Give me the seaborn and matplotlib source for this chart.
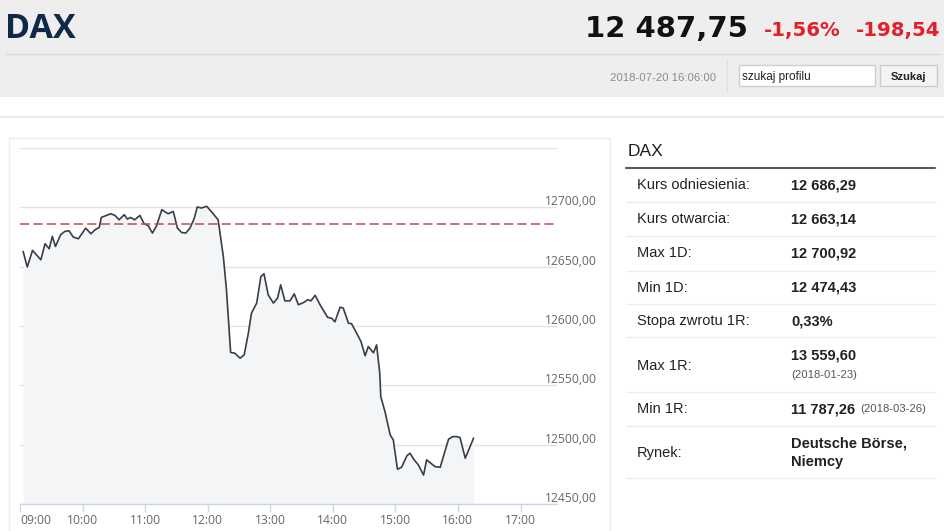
import matplotlib
matplotlib.use("Agg")
import pandas as pd
import seaborn as sns
import matplotlib.pyplot as plt
from matplotlib.patches import Rectangle
from matplotlib.lines import Line2D
from matplotlib.transforms import blended_transform_factory, offset_copy

# intraday DAX quotes (2018-07-20)
times = [
    "09:03", "09:07", "09:12", "09:20", "09:24", "09:28", "09:31", "09:34", "09:39", "09:43",
    "09:47", "09:51", "09:56", "10:03", "10:08", "10:12", "10:16", "10:18", "10:27", "10:31",
    "10:35", "10:40", "10:43", "10:46", "10:50", "10:55", "10:59", "11:03", "11:07", "11:11",
    "11:16", "11:22", "11:27", "11:31", "11:35", "11:39", "11:43", "11:47", "11:50", "11:54",
    "11:59", "12:04", "12:10", "12:15", "12:18", "12:22", "12:26", "12:31", "12:35", "12:39",
    "12:42", "12:47", "12:51", "12:54", "12:58", "13:03", "13:07", "13:10", "13:14", "13:19",
    "13:23", "13:27", "13:32", "13:36", "13:39", "13:43", "13:48", "13:55", "13:59", "14:02",
    "14:07", "14:10", "14:15", "14:18", "14:23", "14:27", "14:31", "14:34", "14:39", "14:42",
    "14:45", "14:46", "14:50", "14:55", "14:58", "15:02", "15:06", "15:11", "15:14", "15:18",
    "15:22", "15:27", "15:30", "15:38", "15:43", "15:51", "15:55", "15:59", "16:02", "16:07",
    "16:15",
]
prices = [
    12662.8, 12649.7, 12663.7, 12655.8, 12669.3, 12665.1, 12675.5, 12667.0, 12676.9, 12679.7,
    12680.3, 12675.0, 12673.5, 12682.5, 12677.7, 12681.1, 12683.1, 12691.5, 12694.6, 12693.2,
    12689.5, 12693.8, 12690.1, 12691.5, 12689.5, 12693.2, 12686.2, 12684.5, 12678.3, 12684.5,
    12698.0, 12694.6, 12696.5, 12682.5, 12678.8, 12678.3, 12682.5, 12690.4, 12700.3, 12699.4,
    12700.9, 12695.9, 12689.5, 12658.6, 12630.5, 12577.7, 12577.1, 12572.9, 12575.7, 12594.0,
    12610.9, 12619.3, 12641.7, 12644.0, 12626.3, 12619.3, 12623.5, 12634.7, 12621.2, 12621.2,
    12627.1, 12617.9, 12619.8, 12622.1, 12621.2, 12625.9, 12617.5, 12607.3, 12606.5, 12603.5,
    12615.9, 12615.1, 12602.4, 12601.9, 12593.7, 12586.9, 12574.9, 12582.7, 12577.4, 12584.1,
    12560.3, 12540.6, 12527.9, 12508.3, 12504.0, 12479.3, 12481.0, 12490.6, 12492.8, 12487.2,
    12483.0, 12474.4, 12487.2, 12481.5, 12481.0, 12504.6, 12506.8, 12506.8, 12506.0, 12488.6,
    12505.5,
]
ref_level = 12686.29
y_ticks = [12450, 12500, 12550, 12600, 12650, 12700, 12750]
y_labels = ["12450,00", "12500,00", "12550,00", "12600,00", "12650,00", "12700,00"]
hour_labels = ["09:00", "10:00", "11:00", "12:00", "13:00", "14:00", "15:00", "16:00", "17:00"]

# header
name = "DAX"
last_price = "12 487,75"
change_pct = "-1,56%"
change_abs = "-198,54"
stamp = "2018-07-20 16:06:00"

# side table
row_labels = ["Kurs odniesienia:", "Kurs otwarcia:", "Max 1D:", "Min 1D:",
              "Stopa zwrotu 1R:", "Max 1R:", "Min 1R:", "Rynek:"]
row_values = ["12 686,29", "12 663,14", "12 700,92", "12 474,43", "0,33%",
              "13 559,60", "11 787,26", "Deutsche Börse,"]
row_notes = {5: "(2018-01-23)", 6: "(2018-03-26)", 7: "Niemcy"}

sns.set_theme(style="white")
plt.rcParams["font.family"] = ["Open Sans", "DejaVu Sans"]

W, H = 945, 531
fig = plt.figure(figsize=(W / 100, H / 100), dpi=100)
fig.patch.set_facecolor("white")


def fx(x):
    return x / W


def fy(y):
    return 1 - y / H


def hline(x0, x1, y, color, lw=1.0):
    fig.add_artist(Line2D([fx(x0), fx(x1)], [fy(y), fy(y)], color=color, lw=lw))


# header band
fig.add_artist(Rectangle((0, fy(97)), 1, 97 / H, color="#eeeeee", lw=0, zorder=0))
hline(5, 940, 54, "#d9d9d9")
hline(0, 945, 117, "#e6e6e6", 1.2)
fig.add_artist(Line2D([fx(727), fx(727)], [fy(60), fy(92)], color="#e0e0e0", lw=1))

fig.text(fx(5), fy(38), name, fontsize=24.5, fontweight="bold", color="#10284a",
         ha="left", va="baseline")
fig.text(fx(748), fy(37), last_price, fontsize=21, fontweight="bold", color="#111111",
         ha="right", va="baseline", family="DejaVu Sans")
fig.text(fx(764), fy(36), change_pct, fontsize=14.2, fontweight="bold", color="#e2202c",
         ha="left", va="baseline", family="DejaVu Sans")
fig.text(fx(940), fy(36), change_abs, fontsize=14.2, fontweight="bold", color="#e2202c",
         ha="right", va="baseline", family="DejaVu Sans")
fig.text(fx(716), fy(81), stamp, fontsize=8.2, color="#8c8c8c", ha="right", va="baseline",
         family="Liberation Sans")

# search box and button
fig.add_artist(Rectangle((fx(739), fy(86)), fx(136), 21 / H, facecolor="white",
                         edgecolor="#cfcfcf", lw=1))
fig.text(fx(742), fy(80), "szukaj profilu", fontsize=8.5, color="#222222",
         ha="left", va="baseline", family="Liberation Sans")
fig.add_artist(Rectangle((fx(880), fy(86)), fx(57), 21 / H, facecolor="#f3f3f3",
                         edgecolor="#cccccc", lw=1))
fig.text(fx(908.5), fy(80), "Szukaj", fontsize=8, fontweight="bold", color="#222222",
         ha="center", va="baseline", family="Liberation Sans")

# chart panel frame
fig.add_artist(Rectangle((fx(9), fy(545)), fx(601), (545 - 138) / H, fill=False,
                         edgecolor="#eeeeee", lw=1))

# chart
df = pd.DataFrame({"time": pd.to_datetime("2018-07-20 " + pd.Series(times)),
                   "price": prices})
ax = fig.add_axes([fx(20), fy(504), fx(537), (504 - 148) / H])
ax.set_facecolor("white")
ax.fill_between(df["time"], df["price"], y_ticks[0], color="#f4f5f7", lw=0, zorder=1)
sns.lineplot(data=df, x="time", y="price", ax=ax, color="#383e48", lw=1.2, zorder=3)
ax.axhline(ref_level, color="#c9474b", lw=1.1, dashes=(6, 2.8), zorder=4)

ax.set_ylim(y_ticks[0], y_ticks[-1])
ax.set_xlim(pd.Timestamp("2018-07-20 09:00"), pd.Timestamp("2018-07-20 17:35"))
ax.set_yticks(y_ticks)
ax.yaxis.grid(True, color="#e3e3e3", lw=1)
ax.set_axisbelow(True)
ax.tick_params(axis="y", left=False, right=False, labelleft=False)

tick_pos = pd.date_range("2018-07-20 09:00", "2018-07-20 17:00", freq="h")
ax.set_xticks(tick_pos)
ax.set_xticklabels(hour_labels)
ax.tick_params(axis="x", bottom=True, length=6, width=1, color="#ccd6eb", direction="out",
               labelsize=8.7, labelcolor="#666666", pad=1.5)
ax.get_xticklabels()[0].set_horizontalalignment("left")
for side in ["top", "left", "right"]:
    ax.spines[side].set_visible(False)
ax.spines["bottom"].set_color("#ccd6eb")
ax.spines["bottom"].set_linewidth(1)
ax.set_xlabel("")
ax.set_ylabel("")

trans = offset_copy(blended_transform_factory(ax.transAxes, ax.transData), fig=fig,
                    x=0, y=2, units="dots")
for val, lab in zip(y_ticks, y_labels):
    ax.text(0.978, val, lab, transform=trans, fontsize=8.7, color="#666666",
            ha="left", va="baseline", clip_on=False)

# side table
fig.text(fx(628), fy(156), name, fontsize=12.5, color="#1e1e1e", ha="left",
         va="baseline", family="Liberation Sans")
hline(626, 935, 167.7, "#5a5a5a", 1.5)
for y in [201.7, 236, 270.7, 304.3, 337.3, 391.7, 426, 477.7]:
    hline(626, 935, y, "#eeeeee", 1)

label_y = [185, 219.3, 253.3, 287.7, 321.5, 366, 409.3, 453.3]
value_y = [185, 219.3, 253.3, 287.7, 321.5, 355, 409.3, 444]
for i, (lab, val) in enumerate(zip(row_labels, row_values)):
    fig.text(fx(637), fy(label_y[i]), lab, fontsize=10.5, color="#222222",
             ha="left", va="center", family="Liberation Sans")
    fig.text(fx(791), fy(value_y[i]), val, fontsize=10.5, fontweight="bold",
             color="#222222", ha="left", va="center", family="Liberation Sans")
fig.text(fx(791), fy(375), row_notes[5], fontsize=8.1, color="#555555",
         ha="left", va="center", family="Liberation Sans")
fig.text(fx(860), fy(409.3), row_notes[6], fontsize=8.1, color="#555555",
         ha="left", va="center", family="Liberation Sans")
fig.text(fx(791), fy(462), row_notes[7], fontsize=10.5, fontweight="bold",
         color="#222222", ha="left", va="center", family="Liberation Sans")

fig.savefig("out.png", dpi=100)
